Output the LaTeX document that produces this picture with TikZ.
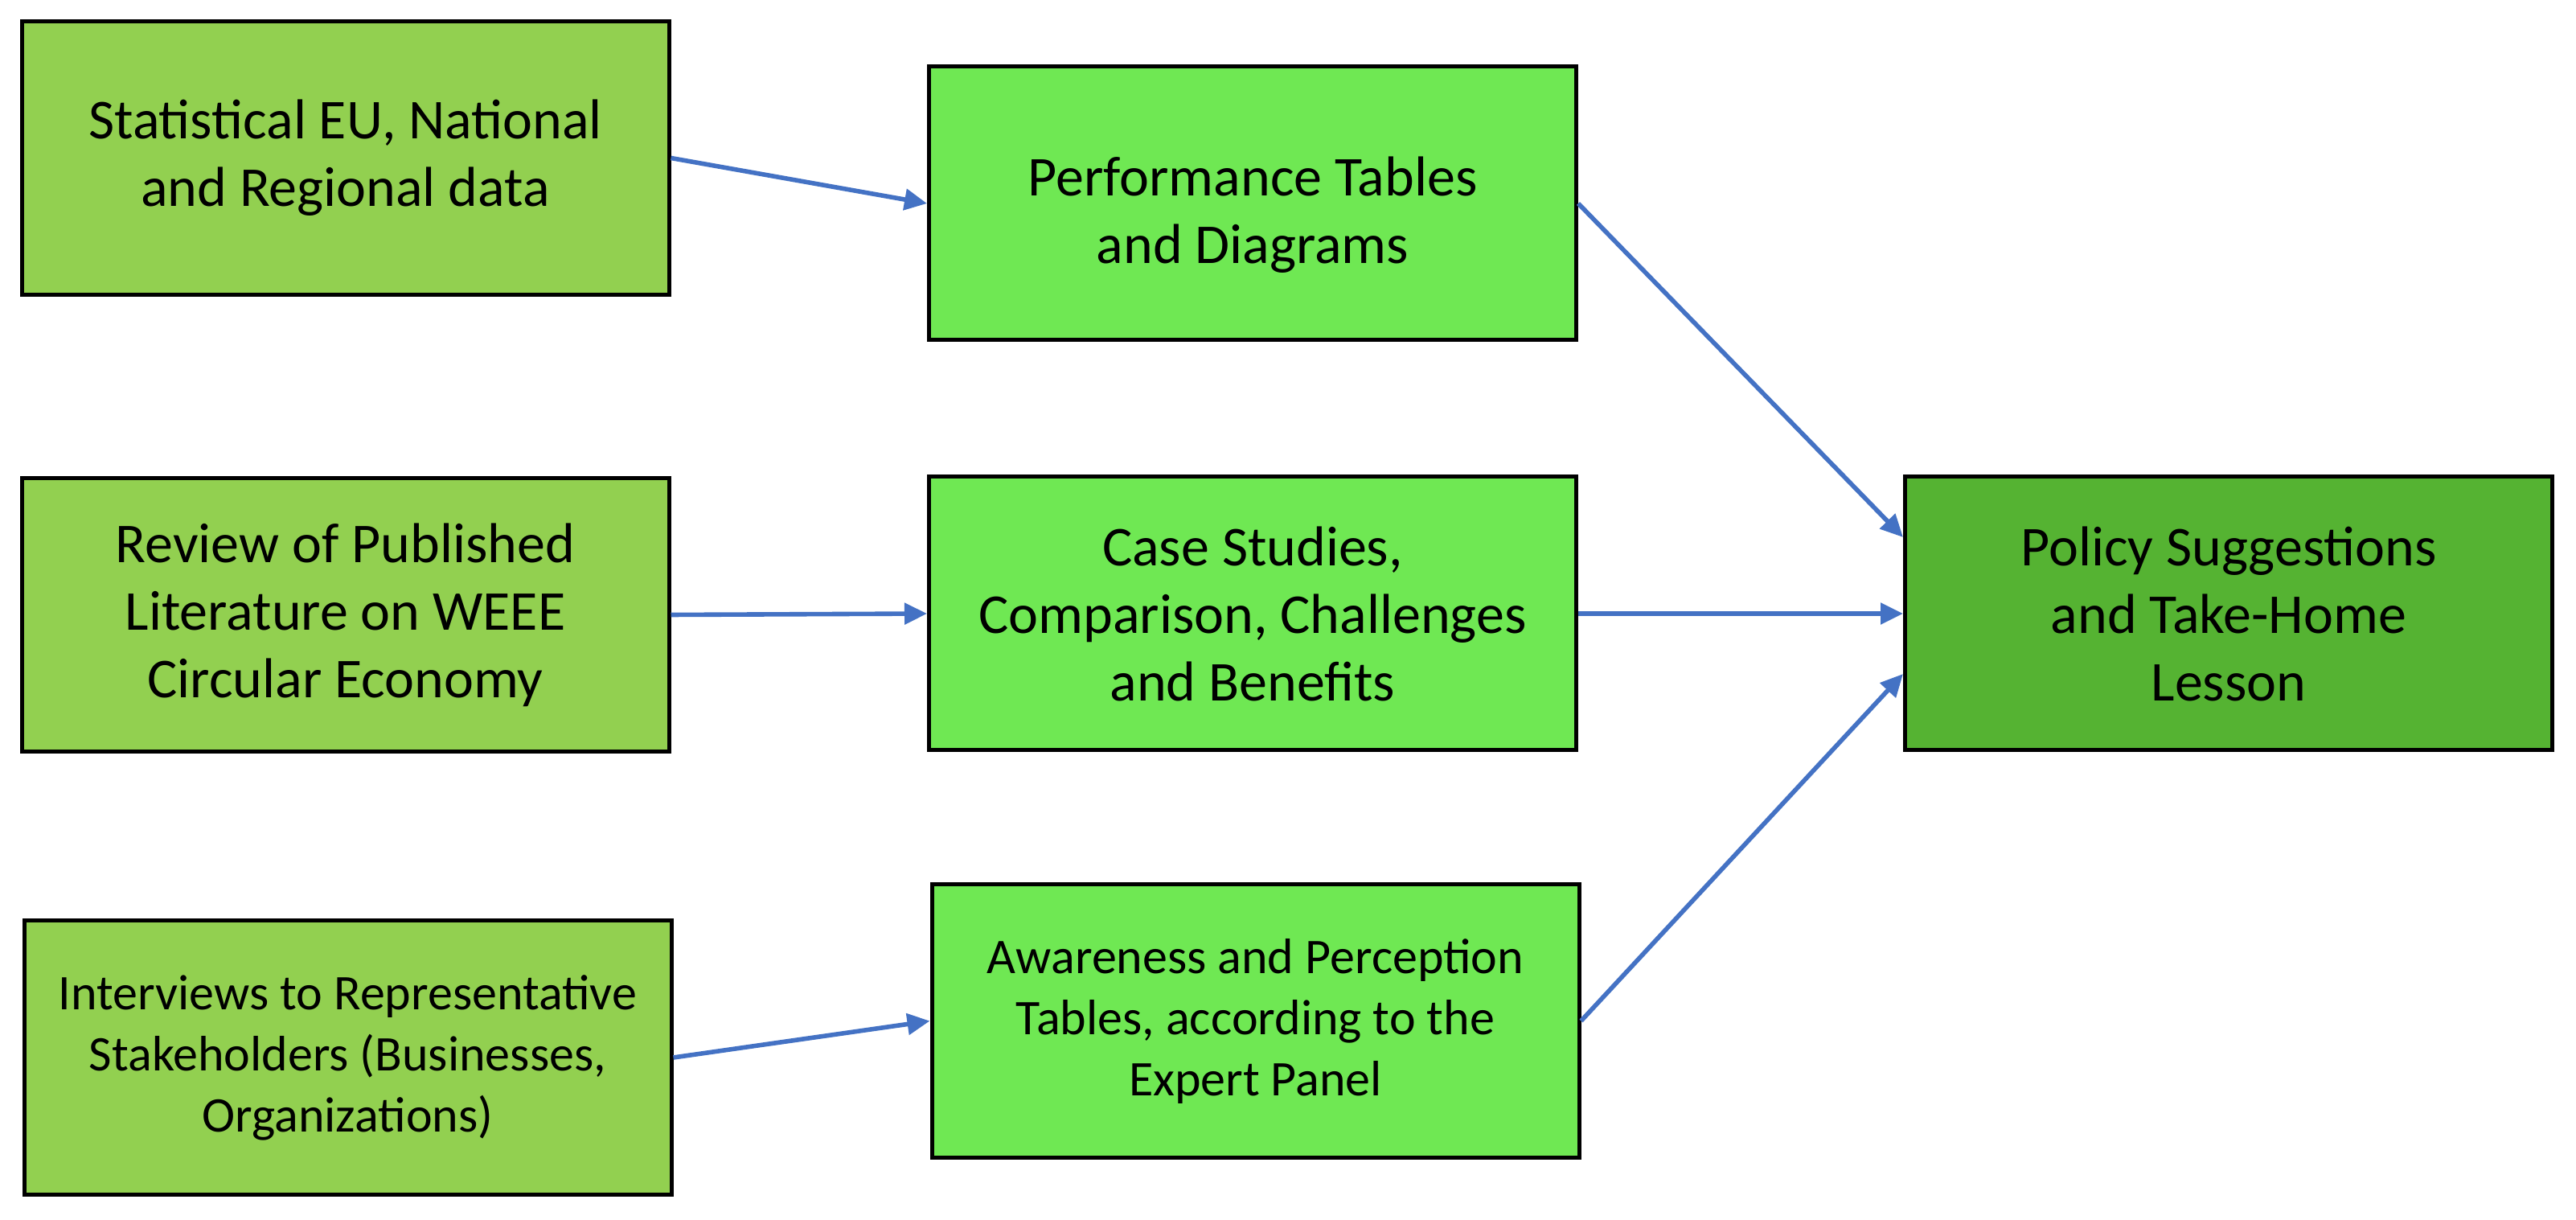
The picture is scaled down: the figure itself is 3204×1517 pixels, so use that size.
\documentclass[tikz,border=0pt]{standalone}
\usepackage{fontspec}
\setmainfont{Carlito}
\usetikzlibrary{arrows.meta,calc}
\definecolor{srcgreen}{HTML}{92D050}
\definecolor{midgreen}{HTML}{6FE853}
\definecolor{outgreen}{HTML}{55B332}
\definecolor{arrowblue}{HTML}{4472C4}
\begin{document}
\begin{tikzpicture}[x=0.25pt,y=-0.25pt,
  box/.style={draw=black, line width=1.25pt, inner sep=0pt, align=center,
    minimum width=201.25pt, minimum height=85pt,
    font=\fontsize{17.5}{21}\selectfont},
  smallbox/.style={box, font=\fontsize{15.5}{19}\selectfont},
  srcbox/.style={fill=srcgreen},
  midbox/.style={fill=midgreen},
  resultbox/.style={fill=outgreen},
  link/.style={draw=arrowblue, line width=1.4pt,
    -{Triangle[length=7pt,width=6.5pt]}}]
\useasboundingbox (0,0) rectangle (3204,1517);
\fill[white] (0,0) rectangle (3204,1517);

\node[box,srcbox] (A1) at (429.5,196.5) {Statistical EU, National\\and Regional data};
\node[box,srcbox] (A2) at (429.5,764.5) {Review of Published\\Literature on WEEE\\Circular Economy};
\node[smallbox,srcbox] (A3) at (432.5,1315) {Interviews to Representative\\Stakeholders (Businesses,\\Organizations)};

\node[box,midbox] (B1) at (1558,253) {\rule{0pt}{19.5pt}Performance Tables\\and Diagrams};
\node[box,midbox] (B2) at (1558,763) {Case Studies,\\Comparison, Challenges\\and Benefits};
\node[smallbox,midbox] (B3) at (1561.5,1269.5) {Awareness and Perception\\Tables, according to the\\Expert Panel};

\node[box,resultbox] (C) at (2772,763) {Policy Suggestions\\and Take-Home\\Lesson};

\draw[link] (A1.east) -- (B1.west);
\draw[link] (A2.east) -- (B2.west);
\draw[link] (A3.east) -- (B3.west);
\draw[link] (B1.east) -- ($(C.west)+(0,-95)$);
\draw[link] (B2.east) -- (C.west);
\draw[link] (B3.east) -- ($(C.west)+(0,75)$);
\end{tikzpicture}
\end{document}
